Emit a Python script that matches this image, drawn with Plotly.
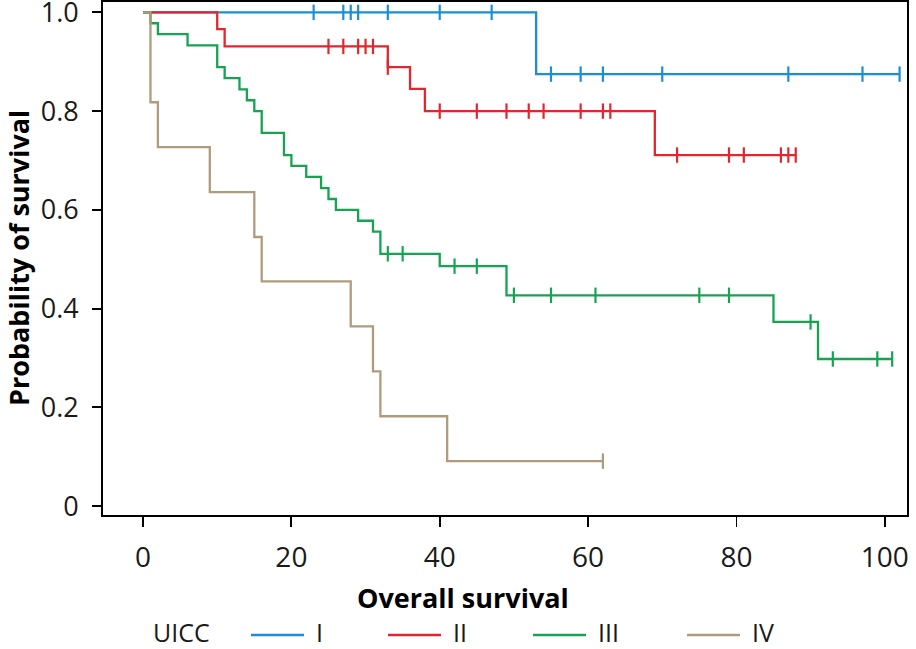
import numpy as np
import plotly.graph_objects as go

# ---- data (Kaplan-Meier curves by UICC stage) ----
groups = ["I", "II", "III", "IV"]
colors = ["#1b8fd2", "#e3262d", "#16a452", "#b19b7d"]

I_event_t = [53]
I_event_s = [0.875]
I_censor_t = [23, 27, 28, 29, 33, 40, 47, 55, 59, 62, 70, 87, 97, 102]
I_end = 102

II_event_t = [10, 11, 33, 36, 38, 69]
II_event_s = [0.966, 0.931, 0.889, 0.845, 0.800, 0.711]
II_censor_t = [25, 27, 29, 30, 31, 33, 40, 45, 49, 52, 54, 59, 62, 63,
               72, 79, 81, 86, 87, 88]
II_end = 88

III_event_t = [1, 2, 6, 10, 11, 13, 14, 15, 16, 19, 20, 22, 24, 25, 26, 29,
               31, 32, 40, 49, 85, 91]
III_event_s = [0.978, 0.956, 0.933, 0.889, 0.867, 0.844, 0.822, 0.800, 0.756,
               0.711, 0.689, 0.667, 0.644, 0.622, 0.600, 0.578, 0.556, 0.511,
               0.486, 0.427, 0.373, 0.298]
III_censor_t = [33, 35, 42, 45, 50, 55, 61, 75, 79, 90, 93, 99, 101]
III_end = 101

IV_event_t = [1, 2, 9, 15, 16, 28, 31, 32, 41]
IV_event_s = [0.818, 0.727, 0.636, 0.545, 0.455, 0.364, 0.273, 0.182, 0.091]
IV_censor_t = [62]
IV_end = 62

x_ticks = [0, 20, 40, 60, 80, 100]
y_ticks = [0, 0.2, 0.4, 0.6, 0.8, 1.0]
y_ticktext = ["0", "0.2", "0.4", "0.6", "0.8", "1.0"]

legend_title = "UICC"
x_title = "Overall survival"
y_title = "Probability of survival"

series = [
    (I_event_t, I_event_s, I_censor_t, I_end),
    (II_event_t, II_event_s, II_censor_t, II_end),
    (III_event_t, III_event_s, III_censor_t, III_end),
    (IV_event_t, IV_event_s, IV_censor_t, IV_end),
]

FONT = "Open Sans"
W, H = 916, 649
ML, MR, MT, MB = 103, 9, 2, 134
PW, PH = W - ML - MR, H - MT - MB


def px_x(px):
    return (px - ML) / PW


def px_y(py):
    return (H - MB - py) / PH


fig = go.Figure()

for name, col, (et, es, ct, end) in zip(groups, colors, series):
    xs = [0] + list(et) + [end]
    ys = [1.0] + list(es) + [es[-1]]
    fig.add_trace(go.Scatter(
        x=xs, y=ys, mode="lines", line=dict(color=col, width=2.3, shape="hv"),
        name=name, showlegend=False, hoverinfo="skip"))
    et_arr = np.array(et)
    es_arr = np.array([1.0] + list(es))
    idx = np.searchsorted(et_arr, np.array(ct), side="right")
    cs = es_arr[idx]
    fig.add_trace(go.Scatter(
        x=ct, y=cs, mode="markers",
        marker=dict(symbol="line-ns", size=11, color=col,
                    line=dict(color=col, width=2.2)),
        showlegend=False, name=name))

# manual legend (line sample + label)
annotations = []
shapes = []
leg_y = 632
leg_font = dict(size=25, family=FONT, color="#1a1a1a")
annotations.append(dict(text=legend_title, x=px_x(152), y=px_y(leg_y),
                        xref="paper", yref="paper", xanchor="left",
                        yanchor="middle", showarrow=False, borderpad=0,
                        font=leg_font))
line_x0 = [251, 388, 533, 687]
for name, col, x0 in zip(groups, colors, line_x0):
    shapes.append(dict(type="line", xref="paper", yref="paper",
                       x0=px_x(x0), x1=px_x(x0 + 53),
                       y0=px_y(leg_y + 3), y1=px_y(leg_y + 3),
                       line=dict(color=col, width=2.5)))
    annotations.append(dict(text=name, x=px_x(x0 + 64), y=px_y(leg_y),
                            xref="paper", yref="paper", xanchor="left",
                            yanchor="middle", showarrow=False, borderpad=0,
                            font=leg_font))

annotations.append(dict(text="<b>" + x_title + "</b>", x=px_x(463), y=px_y(597),
                        xref="paper", yref="paper", xanchor="center",
                        yanchor="middle", showarrow=False, borderpad=0,
                        font=dict(size=27, family=FONT, color="black")))
annotations.append(dict(text="<b>" + y_title + "</b>", x=px_x(18), y=px_y(258),
                        xref="paper", yref="paper", xanchor="center",
                        yanchor="middle", showarrow=False, textangle=-90,
                        borderpad=0,
                        font=dict(size=27, family=FONT, color="black")))

fig.update_layout(
    width=W, height=H,
    margin=dict(l=ML, r=MR, t=MT, b=MB, autoexpand=False),
    paper_bgcolor="white", plot_bgcolor="white",
    font=dict(family=FONT, size=28, color="#1a1a1a"),
    showlegend=False,
    annotations=annotations, shapes=shapes,
)
fig.update_xaxes(
    range=[-5.4, 103.0], tickvals=x_ticks, ticks="outside", ticklen=10,
    tickwidth=1.8, tickcolor="black", showgrid=False, zeroline=False,
    showline=True, linecolor="black", linewidth=1.8, mirror=True,
    ticklabelstandoff=7, tickfont=dict(size=28, family=FONT),
    automargin=False, ticklabeloverflow="allow",
)
fig.update_yaxes(
    range=[-0.018, 1.021], tickvals=y_ticks, ticktext=y_ticktext,
    ticks="outside", ticklen=9, tickwidth=1.8, tickcolor="black",
    showgrid=False, zeroline=False,
    showline=True, linecolor="black", linewidth=1.8, mirror=True,
    ticklabelstandoff=8, tickfont=dict(size=27, family=FONT),
    automargin=False, ticklabeloverflow="allow",
)

fig.write_html("out.html",
               config={"displayModeBar": False, "staticPlot": True},
               post_script="document.body.style.margin='0';"
                           "document.body.style.overflow='hidden';")
